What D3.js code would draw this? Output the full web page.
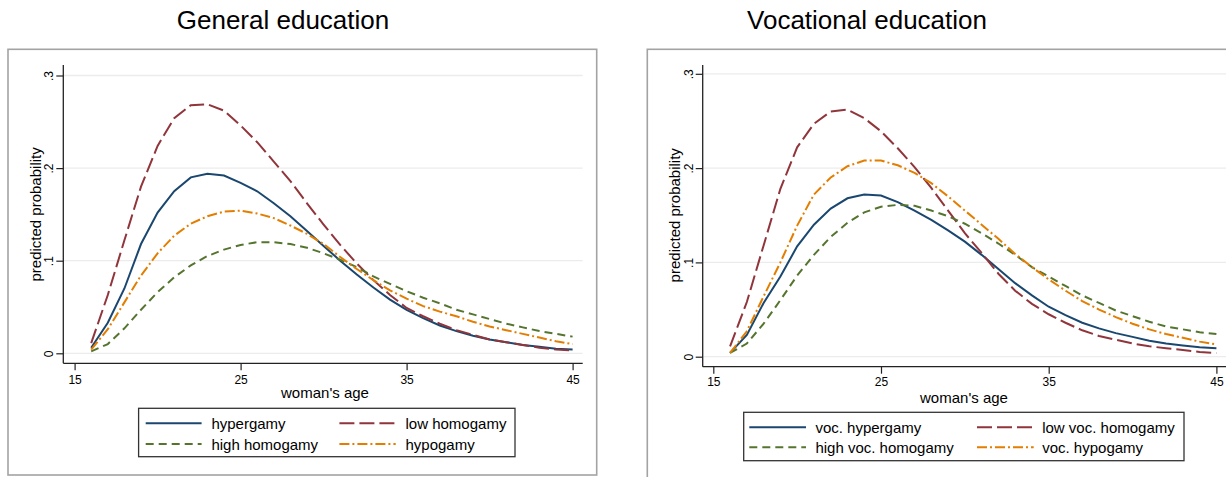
<!DOCTYPE html>
<html>
<head>
<meta charset="utf-8">
<script src="https://cdn.jsdelivr.net/npm/d3@7"></script>
<style>
body { margin: 0; background: #fff; }
svg text { font-family: "Liberation Sans", Arial, sans-serif; fill: #000; }
</style>
</head>
<body>
<svg id="chart" width="1226" height="477"></svg>
<script>
// woman's age, one point per year
var ages = [16,17,18,19,20,21,22,23,24,25,26,27,28,29,30,31,32,33,34,35,36,37,38,39,40,41,42,43,44,45];

// General education
var genHypergamy = [.006,.033,.070,.118,.152,.175,.190,.194,.192,.184,.175,.162,.148,.132,.116,.100,.085,.071,.058,.047,.038,.030,.024,.019,.015,.012,.009,.007,.005,.004];
var genLowHomogamy = [.011,.063,.122,.180,.224,.254,.268,.269,.262,.246,.228,.207,.186,.162,.139,.117,.097,.079,.063,.049,.040,.032,.025,.020,.015,.012,.009,.006,.004,.003];
var genHighHomogamy = [.002,.010,.027,.047,.066,.082,.095,.105,.112,.117,.120,.120,.118,.114,.108,.101,.093,.083,.075,.067,.060,.054,.047,.042,.037,.032,.028,.024,.021,.018];
var genHypogamy = [.004,.026,.055,.084,.108,.127,.140,.148,.153,.154,.151,.146,.138,.129,.118,.104,.091,.079,.068,.059,.051,.045,.040,.034,.029,.025,.021,.017,.013,.010];

// Vocational education
var vocHypergamy = [.004,.023,.057,.085,.117,.140,.157,.168,.172,.171,.164,.155,.145,.134,.122,.108,.093,.078,.065,.053,.044,.036,.030,.025,.021,.017,.014,.012,.010,.009];
var vocLowHomogamy = [.011,.058,.118,.178,.222,.247,.260,.262,.253,.239,.221,.201,.179,.155,.131,.110,.088,.070,.056,.045,.036,.028,.022,.018,.014,.011,.009,.007,.005,.004];
var vocHighHomogamy = [.004,.014,.035,.060,.086,.108,.127,.142,.153,.159,.161,.160,.155,.149,.141,.131,.120,.108,.095,.085,.075,.065,.057,.049,.043,.037,.032,.029,.026,.024];
var vocHypogamy = [.004,.027,.064,.100,.139,.172,.190,.202,.208,.208,.203,.195,.184,.170,.155,.140,.125,.109,.095,.082,.070,.059,.050,.042,.035,.029,.024,.020,.016,.013];

var xTicks = [15, 25, 35, 45];
var yTicks = [0, .1, .2, .3];
var genLabels = ["hypergamy", "low homogamy", "high homogamy", "hypogamy"];
var vocLabels = ["voc. hypergamy", "low voc. homogamy", "high voc. homogamy", "voc. hypogamy"];

var colors = ["#1a476f", "#90353b", "#55752f", "#e37e00"];
var dashes = [null, "15,5", "8,5", "10,3,2,3"];

var svg = d3.select("#chart");

var panels = [
	{
		title: "General education", series: [genHypergamy, genLowHomogamy, genHighHomogamy, genHypogamy], labels: genLabels,
		frame: [8, 49.3, 596.7, 475], region: [63.3, 582.7], axisTop: 65, axisY: 363.3,
		xRange: [74.6, 572.6], yRange: [353.3, 75.5], titleX: 283, yLabelX: 35, xLabelX: 325, xLabelY: 392, tickPad: 5,
		legend: { box: [138.6, 408.3, 515, 456.7], rows: [423.3, 444], lines: [[145.7, 201.6], [339.4, 395.7]], texts: [211.4, 405.5] }
	},
	{
		title: "Vocational education", series: [vocHypergamy, vocLowHomogamy, vocHighHomogamy, vocHypogamy], labels: vocLabels,
		frame: [647.3, 49.3, 1240, 495], region: [702.7, 1240], axisTop: 65, axisY: 366.7,
		xRange: [713.3, 1216.4], yRange: [356.7, 73.8], titleX: 867, yLabelX: 674, xLabelX: 964, xLabelY: 397, tickPad: 4,
		legend: { box: [743.7, 412.3, 1184, 460.7], rows: [427.3, 447.3], lines: [[749.3, 806], [977, 1033.7]], texts: [815.4, 1042.2] }
	}
];

panels.forEach(drawPanel);

function drawPanel(p) {
	var xScale = d3.scaleLinear().domain([15, 45]).range(p.xRange);
	var yScale = d3.scaleLinear().domain([0, .3]).range(p.yRange);
	var g = svg.append("g");

	/*title*/
	g.append("text")
		.attr("x", p.titleX).attr("y", 29)
		.attr("text-anchor", "middle")
		.style("font-size", "26px")
		.text(p.title);

	/*outer frame*/
	g.append("rect")
		.attr("x", p.frame[0]).attr("y", p.frame[1])
		.attr("width", p.frame[2] - p.frame[0]).attr("height", p.frame[3] - p.frame[1])
		.attr("fill", "none").attr("stroke", "#a3a3a3").attr("stroke-width", 1.6);

	/*grid*/
	g.selectAll(".grid").data(yTicks).enter().append("line")
		.attr("x1", p.region[0]).attr("x2", p.region[1])
		.attr("y1", function(d) { return yScale(d); })
		.attr("y2", function(d) { return yScale(d); })
		.attr("stroke", "#ececec").attr("stroke-width", 1.3);

	/*axes*/
	var yAxis = d3.axisLeft(yScale).tickValues(yTicks).tickSize(7).tickSizeOuter(0)
		.tickFormat(function(d) { return d === 0 ? "0" : d3.format(".1f")(d).replace("0.", "."); });
	var xAxis = d3.axisBottom(xScale).tickValues(xTicks).tickSize(7).tickSizeOuter(0).tickPadding(p.tickPad);

	var ya = g.append("g").attr("transform", "translate(" + p.region[0] + ",0)").call(yAxis);
	ya.select(".domain").remove();
	ya.selectAll("line").attr("stroke", "#222").attr("stroke-width", 1.2);
	ya.selectAll("text")
		.attr("x", 0).attr("y", -10).attr("dy", 0)
		.attr("transform", "rotate(-90)")
		.attr("text-anchor", "middle")
		.style("font-size", "12px").style("font-family", null);

	var xa = g.append("g").attr("transform", "translate(0," + p.axisY + ")").call(xAxis);
	xa.select(".domain").remove();
	xa.selectAll("line").attr("stroke", "#222").attr("stroke-width", 1.2);
	xa.selectAll("text").style("font-size", "12px").style("font-family", null);

	g.append("line")
		.attr("x1", p.region[0]).attr("x2", p.region[0])
		.attr("y1", p.axisTop).attr("y2", p.axisY)
		.attr("stroke", "#222").attr("stroke-width", 1.3);
	g.append("line")
		.attr("x1", p.region[0]).attr("x2", p.region[1])
		.attr("y1", p.axisY).attr("y2", p.axisY)
		.attr("stroke", "#222").attr("stroke-width", 1.3);

	/*axis titles*/
	g.append("text")
		.attr("transform", "translate(" + p.yLabelX + "," + (yScale(.15)) + ") rotate(-90)")
		.attr("text-anchor", "middle").attr("dominant-baseline", "central")
		.style("font-size", "15px")
		.text("predicted probability");
	g.append("text")
		.attr("x", p.xLabelX).attr("y", p.xLabelY)
		.attr("text-anchor", "middle").attr("dominant-baseline", "central")
		.style("font-size", "15px")
		.text("woman's age");

	/*lines*/
	var line = d3.line()
		.x(function(d, i) { return xScale(ages[i]); })
		.y(function(d) { return yScale(d); });

	p.series.forEach(function(s, i) {
		g.append("path").datum(s)
			.attr("d", line)
			.attr("fill", "none")
			.attr("stroke", colors[i])
			.attr("stroke-width", 2)
			.attr("stroke-dasharray", dashes[i]);
	});

	/*legend*/
	var L = p.legend;
	g.append("rect")
		.attr("x", L.box[0]).attr("y", L.box[1])
		.attr("width", L.box[2] - L.box[0]).attr("height", L.box[3] - L.box[1])
		.attr("fill", "#fff").attr("stroke", "#333").attr("stroke-width", 1.3);

	p.labels.forEach(function(lab, i) {
		var col = i % 2, row = Math.floor(i / 2);
		g.append("line")
			.attr("x1", L.lines[col][0]).attr("x2", L.lines[col][1])
			.attr("y1", L.rows[row]).attr("y2", L.rows[row])
			.attr("stroke", colors[i]).attr("stroke-width", 2)
			.attr("stroke-dasharray", dashes[i]);
		g.append("text")
			.attr("x", L.texts[col]).attr("y", L.rows[row])
			.attr("dominant-baseline", "central")
			.style("font-size", "15px")
			.text(lab);
	});
}
</script>
</body>
</html>
